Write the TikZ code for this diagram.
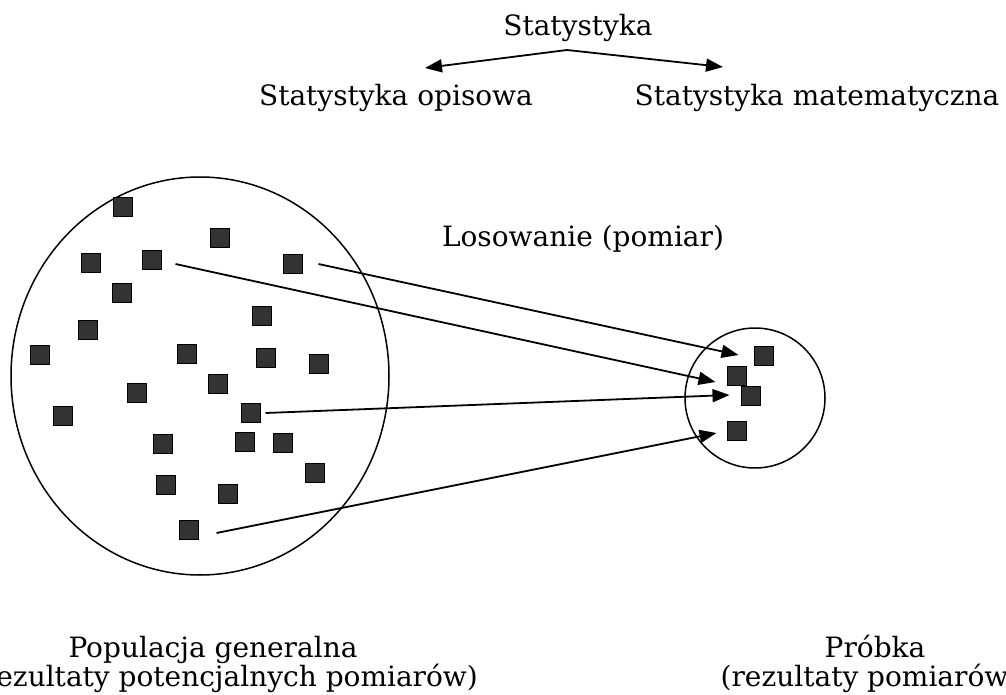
\documentclass[tikz,border=0pt]{standalone}
\usepackage{fontspec}
\setmainfont{DejaVu Serif}
\usetikzlibrary{arrows.meta,shapes.geometric}

\begin{document}
\begin{tikzpicture}[x=1pt,y=-1pt,
  dot/.style={draw=black,fill=black!80,line width=1pt,minimum size=19pt,inner sep=0pt,outer sep=0pt},
  lbl/.style={anchor=base,inner sep=0pt,font=\fontsize{28}{32}\selectfont},
  arr/.style={line width=1.8pt,-{Triangle[length=17pt,width=13pt]}},
  ring/.style={draw=black,line width=1.5pt,inner sep=0pt}]
\useasboundingbox (0,0) rectangle (1006,695);

% labels
\node[lbl] (title)   at (578,36)  {Statystyka};
\node[lbl] (opis)    at (396,106) {Statystyka opisowa};
\node[lbl] (mat)     at (817,106) {Statystyka matematyczna};
\node[lbl] (los)     at (583,246) {Losowanie (pomiar)};
\node[lbl] (pop)     at (213,657) {Populacja generalna};
\node[lbl] (popsub)  at (225,686) {(rezultaty potencjalnych pomiarów)};
\node[lbl] (prob)    at (875,657) {Próbka};
\node[lbl] (probsub) at (870,686) {(rezultaty pomiarów)};

% branches from the title
\coordinate (apex) at ([shift={(-11,14)}]title.base);
\draw[arr] (apex) -- ([shift={(29,-38)}]opis.base);
\draw[arr] (apex) -- ([shift={(-94,-39)}]mat.base);

% population and sample
\node[ring,ellipse,minimum width=378pt,minimum height=398pt] (popset) at (200,376) {};
\node[ring,circle,minimum size=140pt] (sampset) at (755,398) {};

% population elements
\foreach \n/\px/\py in {1/123/207,2/220/238,3/91/263,4/152/260,5/293/264,
  6/122/293,7/262/316,8/88/330,9/40/355,10/187/354,11/266/358,12/319/364,
  13/218/384,14/137/393,15/63/416,16/251/413,17/163/444,18/245/442,
  19/283/443,20/315/473,21/166/485,22/228/494,23/189/530}
  \node[dot] (p\n) at (\px,\py) {};

% sample elements
\node[dot] (s1) at (764,356) {};
\node[dot] (s2) at (737,376) {};
\node[dot] (s3) at (751,396) {};
\node[dot] (s4) at (737,431) {};

% drawing the sample
\draw[arr] ([shift={(14,4)}]p4.east)  -- ([shift={(-12,6)}]s2.west);
\draw[arr] ([shift={(16,0)}]p5.east)  -- ([shift={(-16,-1)}]s1.west);
\draw[arr] ([shift={(5,0)}]p16.east)  -- ([shift={(-12,-1)}]s3.west);
\draw[arr] ([shift={(18,3)}]p23.east) -- ([shift={(-11,2)}]s4.west);
\end{tikzpicture}
\end{document}
